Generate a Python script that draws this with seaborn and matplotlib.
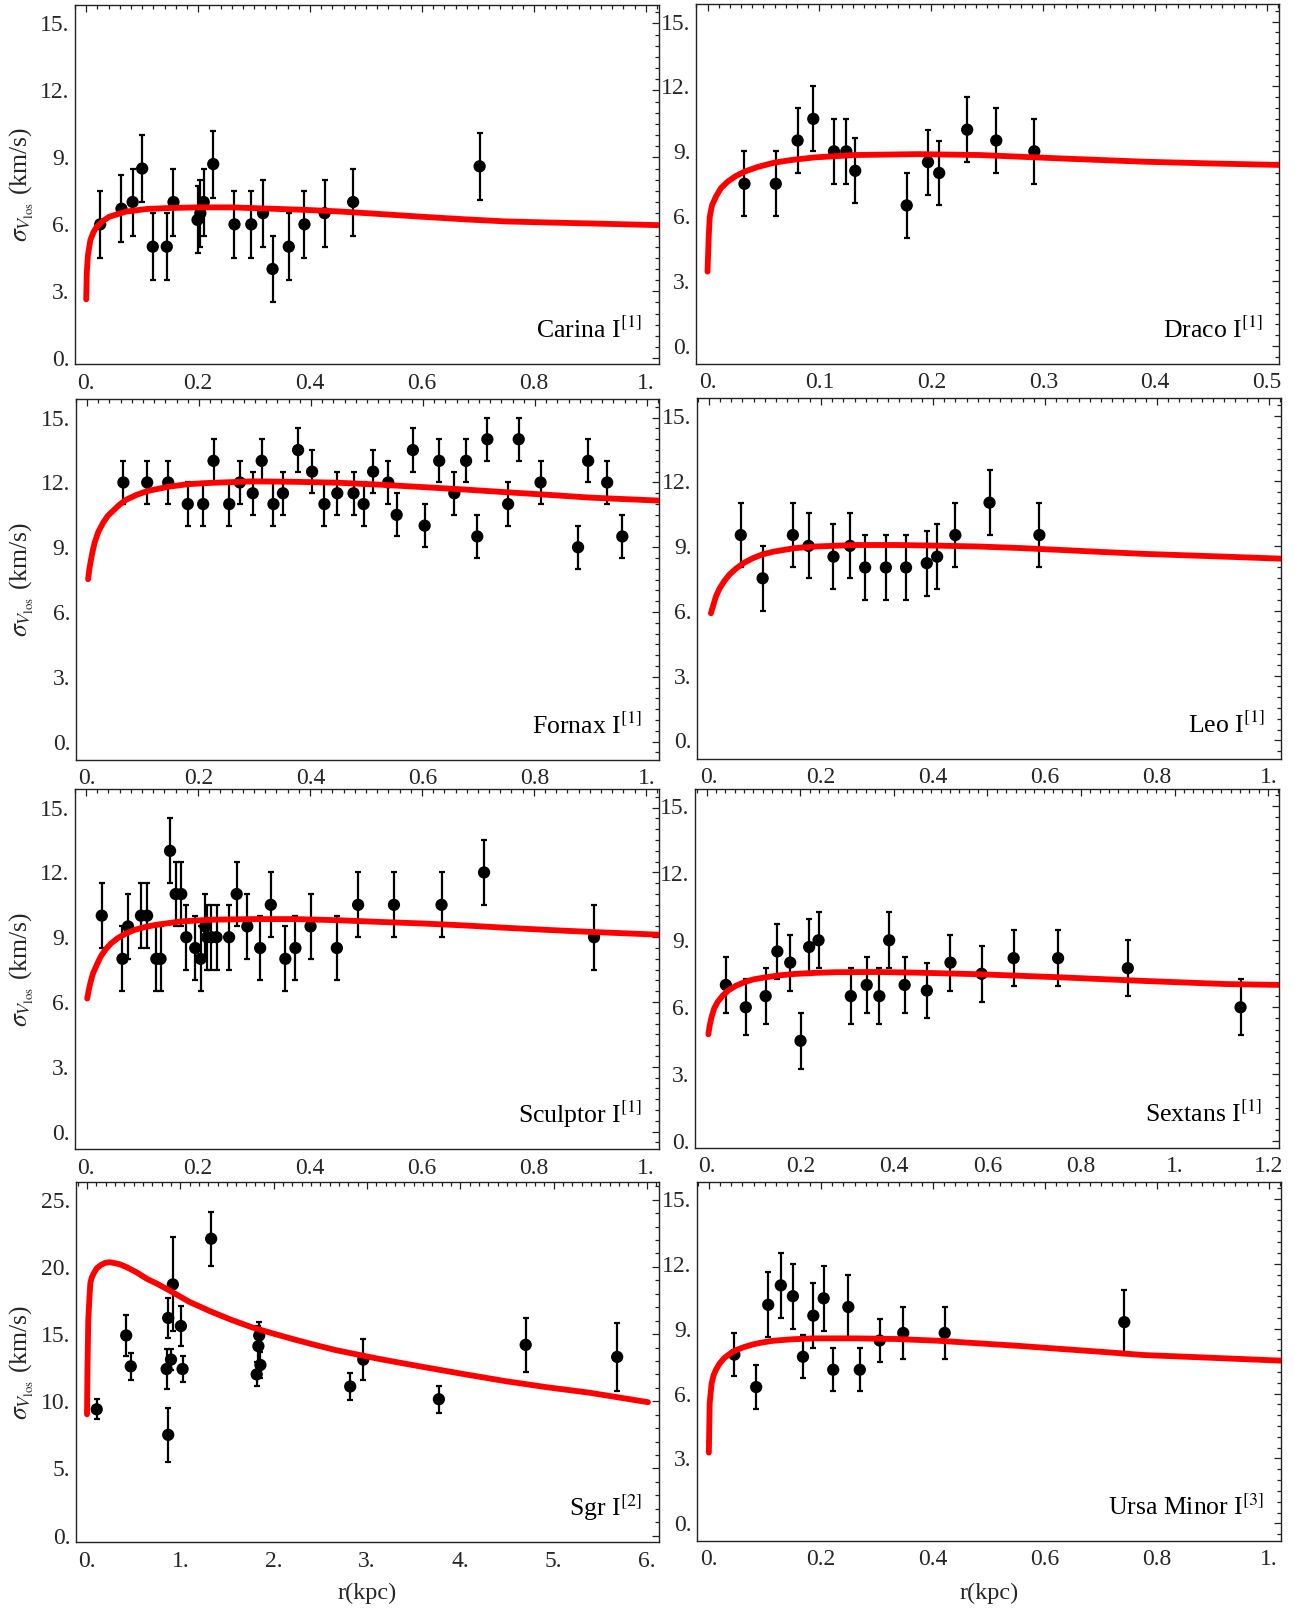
import numpy as np
import pandas as pd
import matplotlib
matplotlib.use("Agg")
import matplotlib.pyplot as plt
import seaborn as sns
from matplotlib.ticker import MultipleLocator, FuncFormatter

# ---------------- data ----------------
carina_r = [0.025, 0.063, 0.083, 0.100, 0.119, 0.144, 0.156, 0.199, 0.204, 0.210,
            0.227, 0.265, 0.295, 0.316, 0.333, 0.362, 0.390, 0.426, 0.477, 0.703]
carina_s = [6.0, 6.7, 7.0, 8.5, 5.0, 5.0, 7.0, 6.2, 6.5, 7.0,
            8.7, 6.0, 6.0, 6.5, 4.0, 5.0, 6.0, 6.5, 7.0, 8.6]
carina_e = [1.5, 1.5, 1.5, 1.5, 1.5, 1.5, 1.5, 1.5, 1.5, 1.5,
            1.5, 1.5, 1.5, 1.5, 1.5, 1.5, 1.5, 1.5, 1.5, 1.5]
carina_cr = [0.0, 0.001, 0.003, 0.0075, 0.013, 0.019, 0.03, 0.041, 0.071, 0.109,
             0.147, 0.20, 0.26, 0.33, 0.39, 0.45, 0.52, 0.60, 0.68, 0.75, 0.83, 0.90, 1.03]
carina_cs = [2.64, 3.8, 4.6, 5.3, 5.65, 5.9, 6.15, 6.34, 6.57, 6.69,
             6.73, 6.76, 6.76, 6.70, 6.65, 6.58, 6.47, 6.34, 6.22, 6.13, 6.08, 6.04, 5.96]

draco_r = [0.033, 0.061, 0.0805, 0.0945, 0.113, 0.124, 0.132, 0.178, 0.197, 0.207,
           0.232, 0.258, 0.292]
draco_s = [7.5, 7.5, 9.5, 10.5, 9.0, 9.0, 8.1, 6.5, 8.5, 8.0, 10.0, 9.5, 9.0]
draco_e = [1.5, 1.5, 1.5, 1.5, 1.5, 1.5, 1.5, 1.5, 1.5, 1.5, 1.5, 1.5, 1.5]
draco_cr = [0.0, 0.001, 0.002, 0.004, 0.0074, 0.012, 0.018, 0.025, 0.033, 0.045, 0.059,
            0.075, 0.096, 0.132, 0.1875, 0.243, 0.316, 0.39, 0.45, 0.52]
draco_cs = [3.44, 5.0, 5.98, 6.5, 6.9, 7.3, 7.6, 7.85, 8.06, 8.28, 8.47,
            8.6, 8.72, 8.83, 8.87, 8.83, 8.67, 8.52, 8.44, 8.36]

fornax_r = [0.065, 0.1075, 0.145, 0.180, 0.2075, 0.226, 0.254, 0.273, 0.296, 0.312,
            0.333, 0.350, 0.377, 0.402, 0.424, 0.447, 0.476, 0.494, 0.511, 0.538,
            0.553, 0.582, 0.603, 0.629, 0.656, 0.677, 0.697, 0.715, 0.752, 0.771,
            0.810, 0.877, 0.895, 0.929, 0.956]
fornax_s = [12.0, 12.0, 12.0, 11.0, 11.0, 13.0, 11.0, 12.0, 11.5, 13.0,
            11.0, 11.5, 13.5, 12.5, 11.0, 11.5, 11.5, 11.0, 12.5, 12.0,
            10.5, 13.5, 10.0, 13.0, 11.5, 13.0, 9.5, 14.0, 11.0, 14.0,
            12.0, 9.0, 13.0, 12.0, 9.5]
fornax_e = [1.0, 1.0, 1.0, 1.0, 1.0, 1.0, 1.0, 1.0, 1.0, 1.0,
            1.0, 1.0, 1.0, 1.0, 1.0, 1.0, 1.0, 1.0, 1.0, 1.0,
            1.0, 1.0, 1.0, 1.0, 1.0, 1.0, 1.0, 1.0, 1.0, 1.0,
            1.0, 1.0, 1.0, 1.0, 1.0]
fornax_cr = [0.002, 0.004, 0.006, 0.0095, 0.0135, 0.02, 0.0285, 0.037, 0.047, 0.058, 0.07,
             0.088, 0.1075, 0.145, 0.18, 0.22, 0.2955, 0.37, 0.446, 0.521, 0.596, 0.67,
             0.747, 0.822, 0.897, 1.03]
fornax_cs = [7.52, 7.95, 8.26, 8.75, 9.2, 9.7, 10.12, 10.45, 10.7, 10.97, 11.2,
             11.42, 11.6, 11.8, 11.92, 11.98, 12.05, 12.03, 11.99, 11.9, 11.79, 11.68,
             11.55, 11.43, 11.3, 11.15]

leo_r = [0.057, 0.096, 0.150, 0.178, 0.2225, 0.252, 0.279, 0.316, 0.352, 0.389,
         0.4075, 0.440, 0.501, 0.590]
leo_s = [9.5, 7.5, 9.5, 9.0, 8.5, 9.0, 8.0, 8.0, 8.0, 8.2, 8.5, 9.5, 11.0, 9.5]
leo_e = [1.5, 1.5, 1.5, 1.5, 1.5, 1.5, 1.5, 1.5, 1.5, 1.5, 1.5, 1.5, 1.5, 1.5]
leo_cr = [0.0037, 0.0125, 0.019, 0.027, 0.037, 0.049, 0.063, 0.0786, 0.095, 0.115, 0.152,
          0.189, 0.262, 0.3355, 0.409, 0.482, 0.555, 0.629, 0.70, 0.776, 0.90, 1.03]
leo_cs = [5.88, 6.65, 7.02, 7.35, 7.68, 7.96, 8.22, 8.43, 8.6, 8.73, 8.89,
          8.97, 9.04, 9.04, 9.01, 8.97, 8.9, 8.81, 8.72, 8.63, 8.52, 8.40]

scl_r = [0.028, 0.065, 0.075, 0.098, 0.109, 0.1255, 0.133, 0.150, 0.160, 0.170,
         0.179, 0.195, 0.2045, 0.213, 0.216, 0.224, 0.233, 0.2555, 0.269, 0.288,
         0.311, 0.330, 0.356, 0.374, 0.401, 0.448, 0.486, 0.550, 0.635, 0.711, 0.9075]
scl_s = [10.0, 8.0, 9.5, 10.0, 10.0, 8.0, 8.0, 13.0, 11.0, 11.0,
         9.0, 8.5, 8.0, 9.5, 9.0, 9.0, 9.0, 9.0, 11.0, 9.5,
         8.5, 10.5, 8.0, 8.5, 9.5, 8.5, 10.5, 10.5, 10.5, 12.0, 9.0]
scl_e = [1.5, 1.5, 1.5, 1.5, 1.5, 1.5, 1.5, 1.5, 1.5, 1.5,
         1.5, 1.5, 1.5, 1.5, 1.5, 1.5, 1.5, 1.5, 1.5, 1.5,
         1.5, 1.5, 1.5, 1.5, 1.5, 1.5, 1.5, 1.5, 1.5, 1.5, 1.5]
scl_cr = [0.002, 0.0045, 0.0075, 0.012, 0.019, 0.026, 0.034, 0.044, 0.056, 0.07, 0.0865,
          0.105, 0.124, 0.169, 0.222, 0.297, 0.372, 0.447, 0.523, 0.598, 0.673, 0.748,
          0.823, 0.898, 1.03]
scl_cs = [6.16, 6.52, 6.87, 7.3, 7.72, 8.1, 8.41, 8.7, 8.95, 9.16, 9.34,
          9.47, 9.57, 9.73, 9.81, 9.84, 9.84, 9.79, 9.71, 9.64, 9.55, 9.44,
          9.34, 9.25, 9.11]

sex_r = [0.041, 0.0835, 0.126, 0.151, 0.1785, 0.2005, 0.219, 0.239, 0.308, 0.342,
         0.369, 0.390, 0.423, 0.4705, 0.521, 0.5875, 0.656, 0.751, 0.900, 1.141]
sex_s = [7.0, 6.0, 6.5, 8.5, 8.0, 4.5, 8.7, 9.0, 6.5, 7.0,
         6.5, 9.0, 7.0, 6.75, 8.0, 7.5, 8.2, 8.2, 7.75, 6.0]
sex_e = [1.25, 1.25, 1.25, 1.25, 1.25, 1.25, 1.25, 1.25, 1.25, 1.25,
         1.25, 1.25, 1.25, 1.25, 1.25, 1.25, 1.25, 1.25, 1.25, 1.25]
sex_cr = [0.0035, 0.0065, 0.0106, 0.016, 0.0237, 0.034, 0.0457, 0.062, 0.081, 0.10, 0.125,
          0.155, 0.186, 0.23, 0.274, 0.362, 0.45, 0.582, 0.67, 0.758, 0.934, 1.11, 1.23]
sex_cs = [4.79, 5.2, 5.58, 5.95, 6.25, 6.52, 6.75, 6.96, 7.13, 7.25, 7.34,
          7.43, 7.49, 7.54, 7.57, 7.58, 7.55, 7.48, 7.41, 7.34, 7.18, 7.04, 7.0]

sgr_r = [0.104, 0.42, 0.469, 0.853, 0.87, 0.87, 0.90, 0.92, 1.006, 1.024,
         1.33, 1.818, 1.836, 1.845, 1.858, 2.82, 2.96, 3.77, 4.70, 5.68]
sgr_s = [9.4, 14.9, 12.6, 12.4, 16.2, 7.5, 13.1, 18.7, 15.6, 12.4,
         22.1, 12.0, 14.1, 14.9, 12.7, 11.1, 13.1, 10.15, 14.2, 13.3]
sgr_e = [0.75, 1.5, 1.0, 1.5, 1.5, 2.0, 0.8, 3.5, 1.5, 1.0,
         2.0, 0.9, 1.5, 1.0, 1.0, 1.0, 1.5, 1.0, 2.0, 2.5]
sgr_cr = [0.0, 0.005, 0.0135, 0.027, 0.036, 0.05, 0.07, 0.104, 0.15, 0.194, 0.24, 0.284,
          0.35, 0.42, 0.53, 0.645, 0.75, 0.87, 1.096, 1.32, 1.55, 1.77, 2.0, 2.22,
          2.45, 2.67, 3.13, 3.58, 4.03, 4.48, 4.93, 5.38, 6.01]
sgr_cs = [9.03, 12.3, 16.05, 17.8, 18.8, 19.2, 19.5, 19.9, 20.15, 20.3, 20.35, 20.3,
          20.2, 20.0, 19.6, 19.1, 18.75, 18.3, 17.4, 16.7, 16.05, 15.5, 15.03, 14.6,
          14.18, 13.8, 13.15, 12.58, 12.03, 11.5, 11.04, 10.64, 9.93]

umi_r = [0.0455, 0.0845, 0.106, 0.1285, 0.150, 0.168, 0.1865, 0.205, 0.222, 0.249,
         0.2695, 0.305, 0.347, 0.421, 0.7415]
umi_s = [7.8, 6.3, 10.1, 11.0, 10.5, 7.7, 9.6, 10.4, 7.1, 10.0,
         7.1, 8.45, 8.8, 8.8, 9.3]
umi_e = [1.0, 1.0, 1.5, 1.5, 1.5, 1.0, 1.5, 1.5, 1.0, 1.5,
         1.0, 1.0, 1.2, 1.2, 1.5]
umi_cr = [0.0, 0.0015, 0.005, 0.0085, 0.0125, 0.019, 0.027, 0.037, 0.049, 0.063, 0.0786,
          0.095, 0.115, 0.15, 0.189, 0.262, 0.3355, 0.409, 0.482, 0.555, 0.629, 0.70,
          0.776, 0.90, 1.03]
umi_cs = [3.27, 5.55, 6.47, 6.85, 7.09, 7.38, 7.63, 7.83, 8.01, 8.15, 8.27,
          8.36, 8.44, 8.51, 8.55, 8.55, 8.52, 8.44, 8.32, 8.2, 8.06, 7.93,
          7.78, 7.65, 7.51]

names = ["Carina I", "Draco I", "Fornax I", "Leo I",
         "Sculptor I", "Sextans I", "Sgr I", "Ursa Minor I"]
refs = ["1", "1", "1", "1", "1", "1", "2", "3"]

# ---------------- style ----------------
sns.set_theme(style="white")
plt.rcParams["font.family"] = ["Liberation Serif", "DejaVu Serif"]
plt.rcParams["mathtext.fontset"] = "stix"

W, H = 1295, 1609
fig = plt.figure(figsize=(W / 100, H / 100), dpi=100)

panels = [
    dict(r=carina_r, s=carina_s, e=carina_e, cr=carina_cr, cs=carina_cs,
         px=(75, 4.7, 658.7, 364.3), xlim=(-0.02, 1.023), ylim=(-0.27, 15.84),
         xm=0.2, xn=0.02, ym=3, yn=0.5, yl=True, xl=False),
    dict(r=draco_r, s=draco_s, e=draco_e, cr=draco_cr, cs=draco_cs,
         px=(696, 4, 1279.4, 364), xlim=(-0.0103, 0.511), ylim=(-0.83, 15.81),
         xm=0.1, xn=0.01, ym=3, yn=0.5, yl=False, xl=False),
    dict(r=fornax_r, s=fornax_s, e=fornax_e, cr=fornax_cr, cs=fornax_cs,
         px=(75.8, 399.3, 658.7, 760), xlim=(-0.02, 1.021), ylim=(-0.85, 15.85),
         xm=0.2, xn=0.02, ym=3, yn=0.5, yl=True, xl=False),
    dict(r=leo_r, s=leo_s, e=leo_e, cr=leo_cr, cs=leo_cs,
         px=(697.3, 398.3, 1281.4, 758.7), xlim=(-0.0206, 1.022), ylim=(-0.85, 15.83),
         xm=0.2, xn=0.02, ym=3, yn=0.5, yl=False, xl=False),
    dict(r=scl_r, s=scl_s, e=scl_e, cr=scl_cr, cs=scl_cs,
         px=(74.9, 789.3, 658.7, 1149.3), xlim=(-0.02, 1.023), ylim=(-0.82, 15.85),
         xm=0.2, xn=0.02, ym=3, yn=0.5, yl=True, xl=False),
    dict(r=sex_r, s=sex_s, e=sex_e, cr=sex_cr, cs=sex_cs,
         px=(695.2, 789.3, 1279.4, 1148), xlim=(-0.0246, 1.224), ylim=(-0.3, 15.76),
         xm=0.2, xn=0.02, ym=3, yn=0.5, yl=False, xl=False),
    dict(r=sgr_r, s=sgr_s, e=sgr_e, cr=sgr_cr, cs=sgr_cs,
         px=(75.8, 1182.3, 658.7, 1542.3), xlim=(-0.12, 6.125), ylim=(-0.5, 26.3),
         xm=1.0, xn=0.1, ym=5, yn=1.0, yl=True, xl=True),
    dict(r=umi_r, s=umi_s, e=umi_e, cr=umi_cr, cs=umi_cs,
         px=(697.3, 1181.7, 1281.4, 1540.7), xlim=(-0.0206, 1.022), ylim=(-0.8, 15.79),
         xm=0.2, xn=0.02, ym=3, yn=0.5, yl=False, xl=True),
]


def mfmt(v, pos):
    if abs(v - round(v)) < 1e-9:
        return f"{int(round(v))}."
    return f"{v:.1f}"


for i, p in enumerate(panels):
    l, t, r_, b = p["px"]
    ax = fig.add_axes([l / W, 1 - b / H, (r_ - l) / W, (b - t) / H])
    ax.set_facecolor("white")

    ax.errorbar(p["r"], p["s"], yerr=p["e"], fmt="none", ecolor="black",
                elinewidth=1.6, capsize=2.5, capthick=1.6, zorder=2)
    df = pd.DataFrame({"r": p["r"], "s": p["s"]})
    sns.scatterplot(data=df, x="r", y="s", ax=ax, color="black", s=78,
                    edgecolor="none", linewidth=0, zorder=3, legend=False)
    cdf = pd.DataFrame({"r": p["cr"], "s": p["cs"]})
    sns.lineplot(data=cdf, x="r", y="s", ax=ax, color="#ff0000", lw=4.2,
                 sort=False, estimator=None, zorder=4, legend=False)

    ax.set_xlim(*p["xlim"])
    ax.set_ylim(*p["ylim"])
    ax.xaxis.set_major_locator(MultipleLocator(p["xm"]))
    ax.xaxis.set_minor_locator(MultipleLocator(p["xn"]))
    ax.yaxis.set_major_locator(MultipleLocator(p["ym"]))
    ax.yaxis.set_minor_locator(MultipleLocator(p["yn"]))
    ax.xaxis.set_major_formatter(FuncFormatter(mfmt))
    ax.yaxis.set_major_formatter(FuncFormatter(mfmt))
    ax.tick_params(which="both", direction="in", top=True, right=True,
                   color="#222222", width=0.9)
    ax.tick_params(which="major", length=5.2, labelsize=17)
    ax.tick_params(which="minor", length=2.6)
    ax.tick_params(axis="x", which="major", pad=6)
    ax.tick_params(axis="y", which="major", pad=4)
    for sp in ax.spines.values():
        sp.set_color("#222222")
        sp.set_linewidth(1.0)

    axw = r_ - l
    axh = b - t
    if p["yl"]:
        ax.set_ylabel(r"$\sigma_{V_{\mathrm{los}}}$ (km/s)", fontsize=18.5)
        ax.yaxis.label.set_va("center")
        ax.yaxis.set_label_coords((22 - l) / axw, 0.5)
    else:
        ax.set_ylabel("")
    if p["xl"]:
        ax.set_xlabel("r(kpc)", fontsize=17.5)
        ax.xaxis.label.set_va("center")
        ax.xaxis.set_label_coords(0.5, (b - 1593) / axh)
    else:
        ax.set_xlabel("")

    ax.annotate(names[i] + r"$^{[" + refs[i] + r"]}$", xy=(1, 0), xycoords="axes fraction",
                xytext=(-17, 26), textcoords="offset pixels", ha="right", va="baseline",
                fontsize=18.5, color="black")

fig.savefig("out.png", dpi=100, facecolor="white")
